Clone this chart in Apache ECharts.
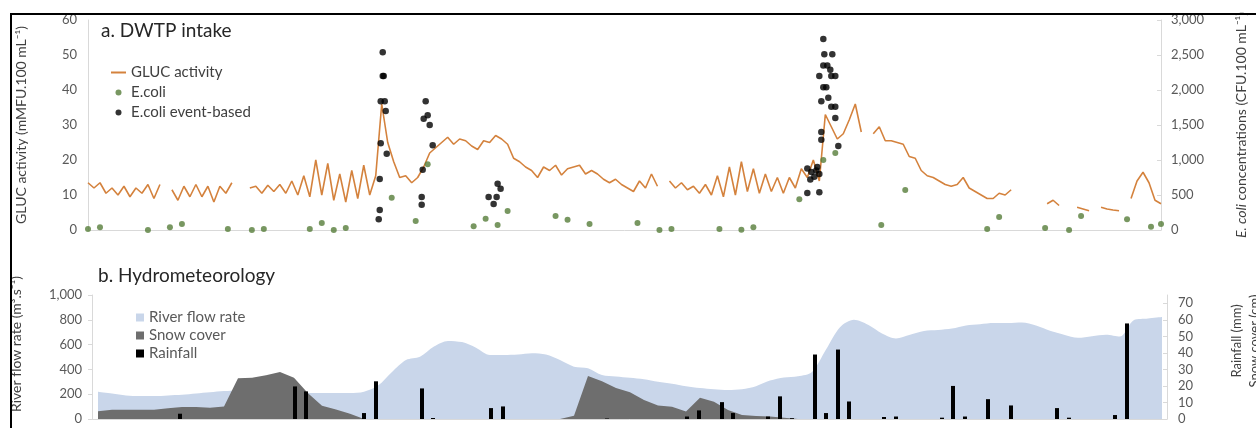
<!DOCTYPE html>
<html>
<head>
<meta charset="utf-8">
<script src="https://cdn.jsdelivr.net/npm/echarts@6/dist/echarts.min.js"></script>
<style>html,body{margin:0;padding:0;background:#fff}#c{width:1256px;height:428px}</style>
</head>
<body>
<div id="c"></div>
<script>
// ---------- DATA ----------
// GLUC activity (mMFU.100 mL-1), one reading every 3 days from day 0
const glucStepDays = 3;
const glucActivity = [
  13.5,12,13.5,10.5,12,10,12.5,9.5,12,10.5,13,9,13,
  null,
  11.5,8.5,12.5,9.5,13,9.5,12.5,8,12.5,10.5,13.5,
  null,null,
  12,12.5,10.5,12.8,11,13,10.5,14,10,15.5,9.5,20,10,19,8.5,16,8,17,9,18.5,10,15.5,
  36,25,19.5,15,15.5,13.5,15,18,22,23.5,25,
  26.5,24.5,26,25.5,24,23,25.5,25,27,26,24.5,20.5,19.5,18,17,15,18,17,18.5,15.7,17.5,18,18.5,16,17,16,14.5,13.5,14.5,13,12,11,14,12,16,12.5,
  null,
  14,12,13.5,11.5,12.5,10.5,13,10,15.5,9.5,18,10,19.5,11,17.5,10.5,16,11,15,10.5,15,12,17.5,15,
  20,14,33,29.5,26,27.5,31.5,36,28,
  null,
  27.5,29.5,25.5,25.5,25,24.5,21,20.5,17,15.5,15,14,13,12.5,13,15,12,11,10,9,9,10.5,10,11.5,
  null,null,null,null,null,
  7.5,8.5,7,
  null,null,
  6.5,6,5.5,
  null,
  6.5,6,5.7,5.5,
  null,
  9,14,16.5,13.5,8.5,7.5
];
// E.coli routine samples (CFU.100 mL-1)
const ecoliDays = [0,6,30,41,47,70,82,88,111,117,123,129,152,164,170,193,199,205,210,234,240,251,275,286,292,316,327,333,356,368,374,397,409,450,456,479,491,497,520,532,537];
const ecoliValues = [15,40,0,40,85,15,0,15,15,100,0,30,460,130,940,55,160,70,270,200,145,85,100,0,15,15,5,40,440,1000,1100,70,570,15,185,30,0,200,155,45,85];
// E.coli event-based samples
const eventDays = [147.5,147.5,148,146.5,148.5,149,146.5,149.5,146,146,145.5,
  169,168,170,171,172.5,167.5,167,167,
  205,206.5,200.5,204.5,203,
  368,368.5,372.5,368,370,371.5,366,372,374,368,369.5,367,370.5,372,374,374,367,367,375.5,360,362,363.5,365,366,361.5,364.5,360,366];
const eventValues = [2540,2200,2200,1840,1840,1700,1240,1090,730,285,155,
  1840,1590,1640,1500,1210,860,470,360,
  660,590,470,470,370,
  2730,2510,2510,2350,2350,2290,2200,2200,2200,2040,2040,1840,1890,1760,1760,1600,1400,1290,1200,880,830,760,900,800,720,850,530,540];
// Hydrometeorology, weekly from day 3
const hydroStartDay = 3;
const hydroStepDays = 7;
const riverFlow = [220,205,190,185,185,190,195,205,215,225,
  232,240,250,240,215,210,210,210,210,220,
  270,380,476,502,585,630,620,575,516,516,
  520,530,520,475,422,410,355,342,332,320,
  300,285,265,250,240,234,240,265,310,335,
  345,380,560,740,800,760,690,650,680,710,
  718,730,755,765,774,774,778,755,712,680,
  655,668,680,665,798,811,823];
const snowCover = [4.7,5.6,5.6,5.6,5.6,6.5,7.2,7.2,6.8,7.5,
  24.6,25,26.4,28.5,25,15.5,8,5.8,3.2,0,
  0,0,0,0,0,0,0,0,0,0,0,0,0,0,
  2,26,22.8,18.7,16.2,11.5,8.2,7.4,4.5,12.8,10.5,5.5,2.4,1.8,1.5,0.8,
  0,0,0,0,0,0,0,0,0,0,0,0,0,0,0,0,0,0,0,0,0,0,0,0,0,0,0];
const rainDays = [44,101.5,107,136,142,165,170.5,199.5,205.5,257.5,297.5,303.5,315,320.5,338,344,350,361.5,367,373,378.5,396,402,425,430.5,436.5,448,459.5,482.5,488.5,511.5,517.5];
const rainfall = [3.2,19.7,16.7,3.6,22.8,18.5,0.6,6.6,7.6,0.3,1.5,5.2,10.2,3.6,1.5,13.7,0.5,39,3.6,42,10.6,1.2,1.5,0.8,20,1.5,12,8.2,6.6,0.8,2.4,57.8];
// axis ranges [min, max, interval]
const glucAxis = [0, 60, 10];
const ecoliAxis = [0, 3000, 500];
const flowAxis = [0, 1000, 200];
const rainAxis = [0, 75, 10];
const topDays = [0, 537];
const bottomDays = [0, 537.5];

// ---------- BUILD ----------
const FONT = 'Lato, "Open Sans", sans-serif';
const axisGray = '#D9D9D9';
const labelColor = '#595959';
const fmt = v => Number(v).toLocaleString('en-US');

const glucData = glucActivity.map((v, i) => [i * glucStepDays, v]);
const ecoliData = ecoliDays.map((d, i) => [d, ecoliValues[i]]);
const eventData = eventDays.map((d, i) => [d, eventValues[i]]);
const flowData = riverFlow.map((v, i) => [hydroStartDay + i * hydroStepDays, v]);
const snowData = snowCover.map((v, i) => [hydroStartDay + i * hydroStepDays, v]);
const rainData = rainDays.map((d, i) => [d, rainfall[i]]);

const xBase = {
  type: 'value',
  axisLine: { show: true, lineStyle: { color: axisGray, width: 1 } },
  axisTick: { show: false },
  axisLabel: { show: false },
  splitLine: { show: false }
};
const yLabel = { color: labelColor, fontSize: 13, fontFamily: FONT };
const titleStyle = { fontSize: 19, fontWeight: 'normal', color: '#262626', fontFamily: FONT };

const option = {
  backgroundColor: '#fff',
  animation: false,
  textStyle: { fontFamily: FONT },
  title: [
    { text: 'a. DWTP intake', left: 101, top: 21, padding: 0, textStyle: titleStyle },
    { text: 'b. Hydrometeorology', left: 98, top: 266, padding: 0, textStyle: titleStyle }
  ],
  legend: [
    { orient: 'vertical', left: 110, top: 65, padding: 0, itemWidth: 15, itemHeight: 6, itemGap: 5,
      textStyle: { fontSize: 15, color: '#404040', lineHeight: 14, fontFamily: FONT },
      data: [
        { name: 'GLUC activity', itemStyle: { color: 'rgba(0,0,0,0)', borderColor: 'rgba(0,0,0,0)', borderWidth: 0 } },
        'E.coli', 'E.coli event-based'
      ] },
    { orient: 'vertical', left: 136, top: 310, padding: 0, itemWidth: 8, itemHeight: 8, itemGap: 3,
      textStyle: { fontSize: 15, color: '#595959', lineHeight: 14, fontFamily: FONT },
      data: [{ name: 'River flow rate', icon: 'rect' }, { name: 'Snow cover', icon: 'rect' }, { name: 'Rainfall', icon: 'rect' }] }
  ],
  grid: [
    { left: 88, right: 93, top: 20, height: 210 },
    { left: 92, right: 89, top: 295, height: 124 }
  ],
  xAxis: [
    Object.assign({ gridIndex: 0, min: topDays[0], max: topDays[1] }, xBase),
    Object.assign({ gridIndex: 1, min: bottomDays[0], max: bottomDays[1] }, xBase)
  ],
  yAxis: [
    { gridIndex: 0, type: 'value', position: 'left', min: glucAxis[0], max: glucAxis[1], interval: glucAxis[2],
      axisLine: { show: true, lineStyle: { color: axisGray } }, axisTick: { show: false },
      axisLabel: Object.assign({ margin: 11 }, yLabel), splitLine: { show: false },
      name: 'GLUC activity (mMFU.100 mL⁻¹)', nameLocation: 'middle', nameRotate: 90, nameGap: 60,
      nameTextStyle: { fontSize: 14, color: '#404040', fontFamily: FONT } },
    { gridIndex: 0, type: 'value', position: 'right', min: ecoliAxis[0], max: ecoliAxis[1], interval: ecoliAxis[2],
      axisLine: { show: true, lineStyle: { color: axisGray } },
      axisTick: { show: true, inside: true, length: 4, lineStyle: { color: axisGray } },
      axisLabel: Object.assign({ margin: 10, formatter: fmt }, yLabel), splitLine: { show: false },
      name: '{i|E. coli} concentrations (CFU.100 mL⁻¹)', nameLocation: 'middle', nameRotate: 90, nameGap: 73,
      nameTextStyle: { fontSize: 14, color: '#404040', fontFamily: FONT,
        rich: { i: { fontStyle: 'italic', fontSize: 14, color: '#404040', fontFamily: FONT } } } },
    { gridIndex: 1, type: 'value', position: 'left', min: flowAxis[0], max: flowAxis[1], interval: flowAxis[2],
      axisLine: { show: true, lineStyle: { color: axisGray } },
      axisTick: { show: true, length: 4, lineStyle: { color: axisGray } },
      axisLabel: Object.assign({ margin: 10, formatter: fmt }, yLabel), splitLine: { show: false } },
    { gridIndex: 1, type: 'value', position: 'right', min: rainAxis[0], max: rainAxis[1], interval: rainAxis[2],
      axisLine: { show: true, lineStyle: { color: axisGray } },
      axisTick: { show: true, inside: true, length: 4, lineStyle: { color: axisGray } },
      axisLabel: Object.assign({ margin: 11, showMaxLabel: false }, yLabel), splitLine: { show: false } }
  ],
  series: [
    { name: 'GLUC activity', type: 'line', xAxisIndex: 0, yAxisIndex: 0, data: glucData,
      symbol: 'none', connectNulls: false, z: 3,
      itemStyle: { color: '#D4823D' }, lineStyle: { color: '#D4823D', width: 1.6 } },
    { name: 'E.coli', type: 'scatter', xAxisIndex: 0, yAxisIndex: 1, data: ecoliData,
      symbol: 'circle', symbolSize: 6, z: 4, itemStyle: { color: '#567D3A' } },
    { name: 'E.coli event-based', type: 'scatter', xAxisIndex: 0, yAxisIndex: 1, data: eventData,
      symbol: 'circle', symbolSize: 6.5, z: 5, itemStyle: { color: '#000' } },
    { name: 'River flow rate', type: 'line', xAxisIndex: 1, yAxisIndex: 2, data: flowData,
      symbol: 'none', smooth: 0.3, z: 1,
      itemStyle: { color: '#C9D6EA' }, lineStyle: { width: 0, color: '#C9D6EA' },
      areaStyle: { color: '#C9D6EA', opacity: 1 } },
    { name: 'Snow cover', type: 'line', xAxisIndex: 1, yAxisIndex: 3, data: snowData,
      symbol: 'none', z: 2,
      itemStyle: { color: '#6E6E6E' }, lineStyle: { width: 0, color: '#6E6E6E' },
      areaStyle: { color: '#6E6E6E', opacity: 1 } },
    { name: 'Rainfall', type: 'bar', xAxisIndex: 1, yAxisIndex: 3, data: rainData,
      barWidth: 4, z: 3, itemStyle: { color: '#000' } }
  ],
  graphic: [
    { type: 'polyline', z: 100, shape: { points: [[11, 428], [11, 14], [1256, 14]] },
      style: { stroke: '#000', lineWidth: 2, fill: null } },
    { type: 'text', x: 16, y: 344, rotation: Math.PI / 2,
      style: { text: 'River flow rate (m³.s⁻¹)', fontSize: 14, fontFamily: FONT, fill: '#404040', align: 'center', verticalAlign: 'middle' } },
    { type: 'text', x: 1237, y: 341, rotation: Math.PI / 2,
      style: { text: 'Rainfall (mm)', fontSize: 13, fontFamily: FONT, fill: '#404040', align: 'center', verticalAlign: 'middle' } },
    { type: 'text', x: 1255, y: 341, rotation: Math.PI / 2,
      style: { text: 'Snow cover (cm)', fontSize: 13, fontFamily: FONT, fill: '#404040', align: 'center', verticalAlign: 'middle' } }
  ]
};

const chart = echarts.init(document.getElementById('c'), null, { renderer: 'canvas' });
chart.setOption(option);
</script>
</body>
</html>
